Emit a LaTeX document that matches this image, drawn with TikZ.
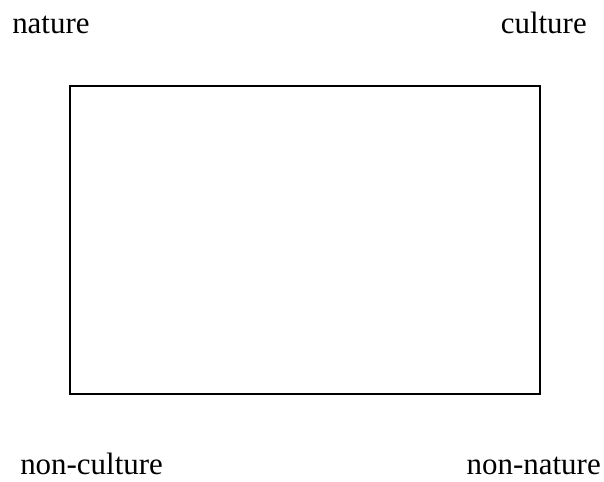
\documentclass[tikz,border=0pt]{standalone}
\usepackage{fontspec}
\setmainfont{Liberation Serif}
\usetikzlibrary{positioning}

\begin{document}
\begin{tikzpicture}[
    x=0.025cm, y=-0.025cm,
    lbl/.style={inner sep=0pt, font=\fontsize{22}{26}\selectfont},
    frame/.style={draw, line width=1.3pt}
  ]
    \useasboundingbox (0,0) rectangle (604,481);

    % Square frame
    \draw[frame] (70,86) rectangle (540,394);

    % Corner labels
    \node[lbl, anchor=base west] (nature)  at (12,33)  {nature};
    \node[lbl, anchor=base east] (culture) at (587,33) {culture};
    \node[lbl, anchor=base west] (noncult) at (20,474) {non-culture};
    \node[lbl, anchor=base east] (nonnat)  at (601,474) {non-nature};

  \end{tikzpicture}
\end{document}
